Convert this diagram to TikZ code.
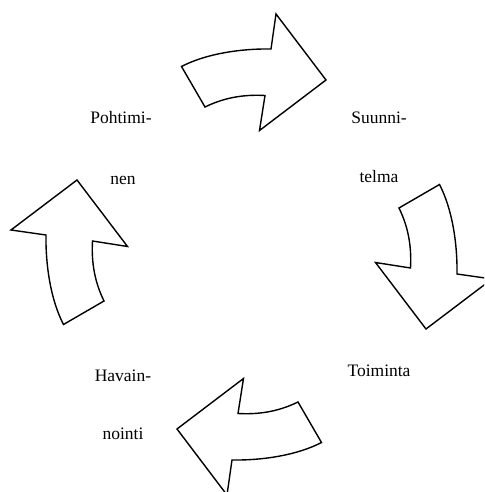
\documentclass[tikz,border=0pt]{standalone}
\usepackage{fontspec}
\setmainfont{Liberation Serif}
\usepackage{tikz}

\begin{document}
\begin{tikzpicture}[x=1pt,y=1pt]
      \tikzstyle{curved}=[draw,line width=1.4pt,line join=miter,fill=white]
      \tikzstyle{word}=[inner sep=0pt,anchor=base,font=\fontsize{17.5}{20}\selectfont]
      \useasboundingbox (-251.5,-237.5) rectangle (232.5,254.5);
      \clip (-251.5,-237.5) rectangle (232.5,254.5);
      \foreach \a in {0,-90,-180,-270} {
        \draw[curved,rotate=\a] (-70,188) .. controls (-45,201) and (-10,206) .. (19.5,205.5)
          -- (24.5,240.5) -- (74.5,174.5) -- (8,124) -- (13.5,159)
          .. controls (-5,160) and (-25,158) .. (-46.5,147.5) -- cycle;
      }
      \node[word] at (-130.5,130.5) (p1) {Pohtimi-};
      \node[word] at (-128.5,69.5) (p2) {nen};
      \node[word] at (127.5,130.5) (s1) {Suunni-};
      \node[word] at (127.5,71.5) (s2) {telma};
      \node[word] at (127.5,-121.5) (t1) {Toiminta};
      \node[word] at (-128.5,-126.5) (h1) {Havain-};
      \node[word] at (-128.5,-184.5) (h2) {nointi};
    \end{tikzpicture}
\end{document}
